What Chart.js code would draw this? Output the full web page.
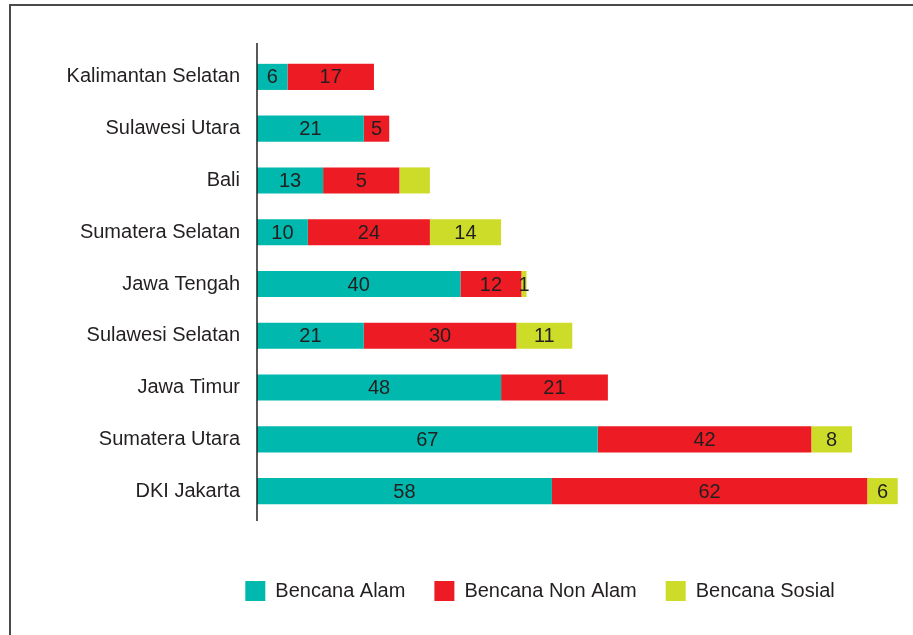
<!DOCTYPE html>
<html>
<head>
<meta charset="utf-8">
<script src="https://cdn.jsdelivr.net/npm/chart.js@4"></script>
<style>
  html, body { margin: 0; padding: 0; background: #fff; overflow: hidden; }
  #frame {
    position: absolute; left: 9px; top: 4px; width: 1000px; height: 700px;
    border-left: 2px solid #4a4a4a; border-top: 2px solid #4a4a4a;
  }
  #wrap { position: absolute; left: 0; top: 0; width: 913px; height: 635px; }
</style>
</head>
<body>
<div id="frame"></div>
<div id="wrap"><canvas id="chart"></canvas></div>
<script>
// données
const categories = ["Kalimantan Selatan", "Sulawesi Utara", "Bali", "Sumatera Selatan",
  "Jawa Tengah", "Sulawesi Selatan", "Jawa Timur", "Sumatera Utara", "DKI Jakarta"];
const alam    = [6, 21, 13, 10, 40, 21, 48, 67, 58];
const nonAlam = [17, 5, 15, 24, 12, 30, 21, 42, 62];
const sosial  = [0, 0, 6, 14, 1, 11, 0, 8, 6];

// texte affiché dans les barres (tel qu'imprimé)
const alamLabels    = ["6", "21", "13", "10", "40", "21", "48", "67", "58"];
const nonAlamLabels = ["17", "5", "5", "24", "12", "30", "21", "42", "62"];
const sosialLabels  = [null, null, null, "14", "1", "11", null, "8", "6"];

const FONT = "'Liberation Sans', Arial, sans-serif";
const TEXT = "#231f20";

// labels centrés dans chaque segment
const barLabels = {
  id: "barLabels",
  afterDatasetsDraw(chart) {
    const ctx = chart.ctx;
    ctx.save();
    ctx.font = "20px " + FONT;
    ctx.fillStyle = TEXT;
    ctx.textAlign = "center";
    ctx.textBaseline = "middle";
    chart.data.datasets.forEach((ds, i) => {
      const meta = chart.getDatasetMeta(i);
      meta.data.forEach((bar, j) => {
        const txt = ds.shownLabels[j];
        if (!txt) return;
        const p = bar.getCenterPoint();
        ctx.fillText(txt, p.x, p.y + 1);
      });
    });
    ctx.restore();
  }
};

// axe vertical un peu plus long que la zone
const axisLine = {
  id: "axisLine",
  afterDraw(chart) {
    const { ctx, chartArea } = chart;
    ctx.save();
    ctx.strokeStyle = "#222";
    ctx.lineWidth = 1.5;
    ctx.beginPath();
    ctx.moveTo(chartArea.left, chartArea.top - 8);
    ctx.lineTo(chartArea.left, chartArea.bottom + 4);
    ctx.stroke();
    ctx.restore();
  }
};

const chart = new Chart(document.getElementById("chart"), {
  type: "bar",
  data: {
    labels: categories,
    datasets: [
      { label: "Bencana Alam", data: alam, shownLabels: alamLabels, backgroundColor: "#00b8ad" },
      { label: "Bencana Non Alam", data: nonAlam, shownLabels: nonAlamLabels, backgroundColor: "#ed1c24" },
      { label: "Bencana Sosial", data: sosial, shownLabels: sosialLabels, backgroundColor: "#cddc29" }
    ]
  },
  options: {
    indexAxis: "y",
    responsive: true,
    maintainAspectRatio: false,
    animation: false,
    datasets: { bar: { barPercentage: 0.504, categoryPercentage: 1, borderWidth: 0 } },
    // padding droite négative : décale la légende vers la droite comme dans l'original
    layout: { padding: { left: 40, right: -127, top: 51, bottom: 24 } },
    plugins: {
      tooltip: { enabled: false },
      legend: {
        position: "bottom",
        labels: {
          boxWidth: 20, boxHeight: 20, padding: 29,
          color: TEXT, font: { family: FONT, size: 20 }
        }
      }
    },
    scales: {
      x: {
        stacked: true, min: 0, max: 129,
        grid: { display: false }, border: { display: false },
        ticks: { display: false },
        afterFit: s => { s.height = 35; }
      },
      y: {
        stacked: true,
        grid: { display: false, drawTicks: false }, border: { display: false },
        ticks: { color: TEXT, font: { family: FONT, size: 20 }, padding: 17 },
        afterFit: s => { s.width = 217; }
      }
    }
  },
  plugins: [barLabels, axisLine]
});
</script>
</body>
</html>
